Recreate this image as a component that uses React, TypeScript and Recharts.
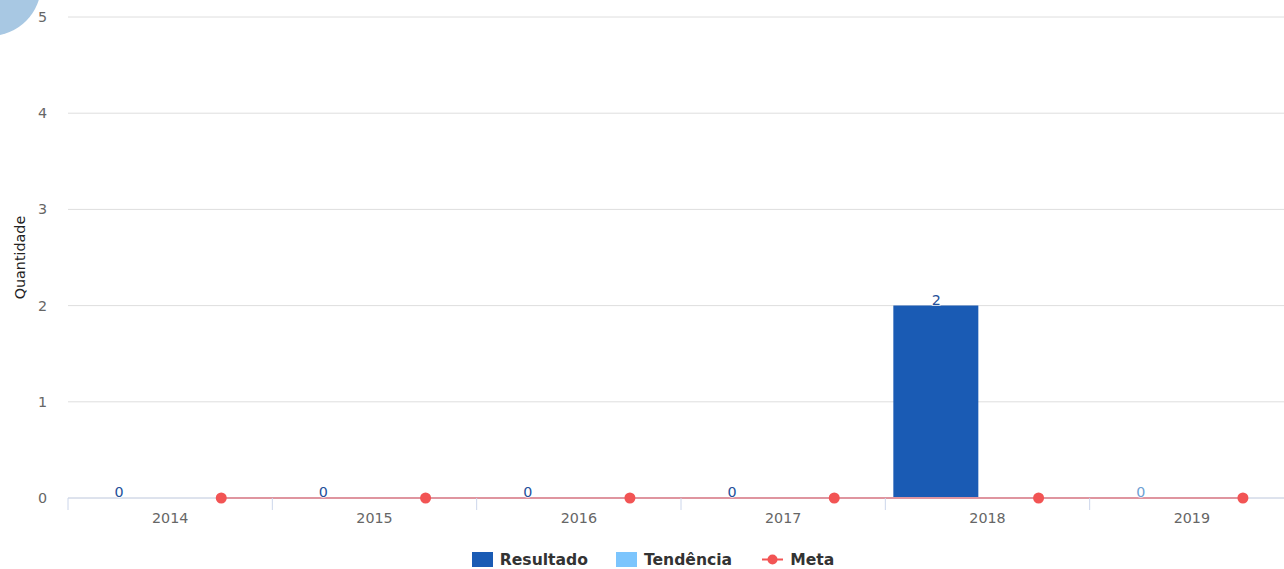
import React from 'react';
import { ComposedChart, Bar, Line, XAxis, YAxis, CartesianGrid, Legend, LabelList } from 'recharts';

const years = ['2014', '2015', '2016', '2017', '2018', '2019'];
const resultado: (number | null)[] = [0, 0, 0, 0, 2, null];
const tendencia: (number | null)[] = [null, null, null, null, null, 0];
const meta: number[] = [0, 0, 0, 0, 0, 0];
const yTicks = [0, 1, 2, 3, 4, 5];

const C_RES = '#1a5bb4';
const C_TEN = '#7cc5fd';
const C_META = '#f25454';
const FONT = '"DejaVu Sans", sans-serif';

// two slots per category: column slot on the left half, Meta point on the right half
const data = years.map((y, i) => ({
  year: y,
  resultado: resultado[i],
  tendencia: tendencia[i],
  meta: meta[i],
  slot: meta[i],
  pos: i + 0.75,
  lpos: i + 0.25,
}));

const numTicks: number[] = [];
years.forEach((_, i) => {
  numTicks.push(i);
  numTicks.push(i + 0.5);
});
numTicks.push(years.length);

const XTick = (props: any) => {
  const { x, y, payload } = props;
  const v = payload.value as number;
  if (Number.isInteger(v)) {
    return <line x1={x} y1={y} x2={x} y2={y + 12} stroke="#ccd6eb" strokeWidth={1} />;
  }
  const label = years[Math.floor(v)];
  return (
    <text x={x} y={y + 25} textAnchor="middle" fill="#666" fontSize={14.3} fontFamily={FONT}>
      {label}
    </text>
  );
};

const makeLabel = (color: string) => (props: any) => {
  const { x, y, value } = props;
  if (value === null || value === undefined) return null;
  return (
    <text
      x={x}
      y={y - 1}
      textAnchor="middle"
      fill={color}
      fontSize={14.3}
      fontFamily={FONT}
      stroke="#fff"
      strokeWidth={2}
      strokeOpacity={0.6}
      paintOrder="stroke"
    >
      {value}
    </text>
  );
};

const LegendContent = () => {
  const item = (icon: React.ReactNode, text: string, mr: number) => (
    <div style={{ display: 'flex', alignItems: 'center', marginRight: mr }}>
      {icon}
      <span style={{ marginLeft: 7, fontWeight: 'bold', fontSize: 15.6, color: '#333', fontFamily: FONT }}>{text}</span>
    </div>
  );
  const square = (c: string) => <div style={{ width: 21, height: 15, background: c }} />;
  const lineIcon = (
    <svg width={21} height={15}>
      <line x1={0} y1={7.5} x2={21} y2={7.5} stroke={C_META} strokeWidth={2} />
      <circle cx={10.5} cy={7.5} r={5} fill={C_META} />
    </svg>
  );
  return (
    <div style={{ height: 31, display: 'flex', justifyContent: 'center', alignItems: 'center', paddingTop: 12, paddingLeft: 4, boxSizing: 'border-box' }}>
      {item(square(C_RES), 'Resultado', 28)}
      {item(square(C_TEN), 'Tendência', 30)}
      {item(lineIcon, 'Meta', 0)}
    </div>
  );
};

const YTitle = (props: any) => {
  const vb = props.viewBox || {};
  const cy = (vb.y || 0) + (vb.height || 0) / 2;
  return (
    <text x={25} y={cy} transform={`rotate(-90, 25, ${cy})`} textAnchor="middle" fill="#222" fontSize={14.3} fontFamily={FONT}>
      Quantidade
    </text>
  );
};

export default function App() {
  return (
    <div style={{ position: 'fixed', left: 0, top: 0, width: 1284, height: 569, overflow: 'hidden', background: '#fff' }}>
      <div
        style={{
          position: 'absolute',
          left: -61,
          top: -66,
          width: 102,
          height: 102,
          borderRadius: '50%',
          background: '#a8c8e3',
        }}
      />
      <div style={{ position: 'absolute', left: 0, top: 0 }}>
        <ComposedChart
          width={1300}
          height={569}
          data={data}
          margin={{ top: 17, right: 6, bottom: 0, left: 8 }}
          barGap={18}
          barCategoryGap={8}
        >
          <CartesianGrid horizontal vertical={false} stroke="#dedede" xAxisId="num" />
          <XAxis xAxisId="cat" dataKey="year" type="category" hide height={0} />
          <XAxis xAxisId="lab" dataKey="lpos" type="number" domain={[0, years.length]} hide height={0} allowDataOverflow />
          <XAxis
            xAxisId="num"
            dataKey="pos"
            type="number"
            domain={[0, years.length]}
            ticks={numTicks}
            interval={0}
            tick={<XTick />}
            tickLine={false}
            tickSize={0}
            tickMargin={0}
            axisLine={{ stroke: '#ccd6eb' }}
            height={40}
            allowDataOverflow
          />
          <YAxis
            domain={[0, 5]}
            ticks={yTicks}
            interval={0}
            axisLine={false}
            tickLine={false}
            tickSize={0}
            tickMargin={21}
            width={60}
            tick={{ fill: '#666', fontSize: 14.3, fontFamily: FONT }}
            label={<YTitle />}
          />
          <Legend verticalAlign="bottom" content={<LegendContent />} />
          <Bar xAxisId="cat" dataKey="resultado" name="Resultado" stackId="a" fill={C_RES} isAnimationActive={false} />
          <Bar xAxisId="cat" dataKey="tendencia" name="Tendência" stackId="a" fill={C_TEN} isAnimationActive={false} />
          <Bar xAxisId="cat" dataKey="slot" stackId="b" fill="transparent" legendType="none" isAnimationActive={false} />
          <Line
            xAxisId="num"
            dataKey="meta"
            name="Meta"
            stroke={C_META}
            strokeWidth={2}
            dot={{ r: 5.5, fill: C_META, stroke: C_META, strokeWidth: 0 }}
            isAnimationActive={false}
          />
          <Line
            xAxisId="lab"
            dataKey="resultado"
            stroke="none"
            dot={false}
            activeDot={false}
            legendType="none"
            isAnimationActive={false}
          >
            <LabelList dataKey="resultado" content={makeLabel('#24509a')} />
          </Line>
          <Line
            xAxisId="lab"
            dataKey="tendencia"
            stroke="none"
            dot={false}
            activeDot={false}
            legendType="none"
            isAnimationActive={false}
          >
            <LabelList dataKey="tendencia" content={makeLabel('#6e9fd3')} />
          </Line>
        </ComposedChart>
      </div>
    </div>
  );
}
